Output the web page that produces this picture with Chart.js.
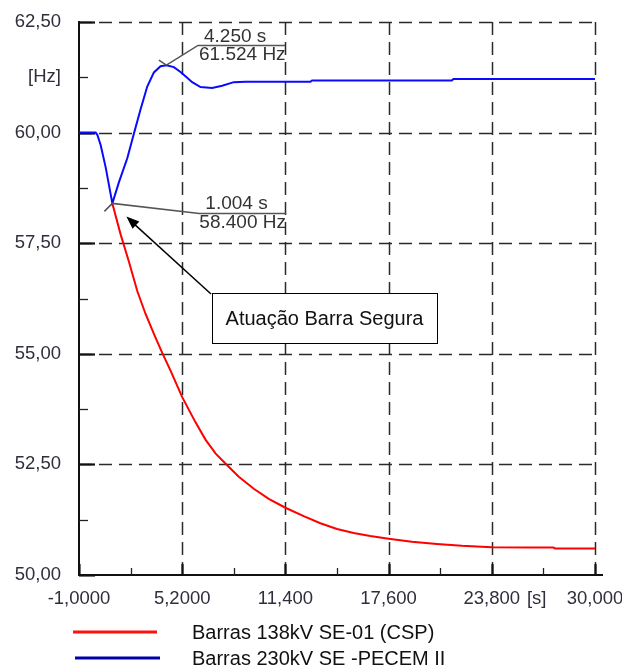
<!DOCTYPE html>
<html>
<head>
<meta charset="utf-8">
<script src="https://cdn.jsdelivr.net/npm/chart.js@4.4.1/dist/chart.umd.min.js"></script>
<style>
  html, body { margin: 0; padding: 0; background: #ffffff; }
  #wrap { width: 622px; height: 669px; position: relative; }
</style>
</head>
<body>
<div id="wrap"><canvas id="c" width="622" height="669"></canvas></div>
<script>
// ---- data ----
const seriesNames = ['Barras 138kV SE-01 (CSP)', 'Barras 230kV SE -PECEM II'];

const redT = [1.004, 1.5, 2.0, 2.5, 3.0, 3.5, 4.0, 4.5, 5.2, 6.0, 6.6, 7.2, 7.9, 8.6, 9.5, 10.4, 11.4, 12.5, 13.5, 14.5, 15.5, 16.5, 17.6, 19.0, 20.5, 22.0, 23.8, 26.0, 27.5, 27.6, 30.0];
const redF = [58.40, 57.70, 57.08, 56.42, 55.90, 55.45, 55.02, 54.62, 54.02, 53.45, 53.06, 52.75, 52.48, 52.22, 51.95, 51.72, 51.52, 51.33, 51.17, 51.04, 50.95, 50.88, 50.82, 50.75, 50.70, 50.66, 50.63, 50.62, 50.62, 50.60, 50.60];

const blueT = [-1.0, 0.0, 0.1, 0.3, 0.6, 1.004, 1.4, 1.9, 2.3, 2.7, 3.1, 3.5, 3.9, 4.25, 4.7, 5.1, 5.5, 5.8, 6.3, 7.0, 7.6, 8.3, 9.0, 12.9, 13.0, 21.4, 21.5, 30.0];
const blueF = [60.00, 60.00, 59.95, 59.72, 59.22, 58.40, 58.88, 59.42, 59.98, 60.53, 61.04, 61.36, 61.50, 61.524, 61.48, 61.37, 61.24, 61.14, 61.03, 61.01, 61.06, 61.14, 61.15, 61.15, 61.18, 61.18, 61.21, 61.21];

const xMajor = [-1.0, 5.2, 11.4, 17.6, 23.8, 30.0];
const xMinor = [2.1, 8.3, 14.5, 20.7, 26.9];
const xTickVals = [-1.0, 5.2, 11.4, 17.6, 23.8, 26.5, 30.0];
const xTickLabels = ['-1,0000', '5,2000', '11,400', '17,600', '23,800', '[s]', '30,000'];

const yMajor = [50.0, 52.5, 55.0, 57.5, 60.0, 62.5];
const yMinor = [51.25, 53.75, 56.25, 58.75, 61.25];
const yTickVals = [50.0, 52.5, 55.0, 57.5, 60.0, 61.25, 62.5];
const yTickLabels = ['50,00', '52,50', '55,00', '57,50', '60,00', '[Hz]', '62,50'];

const markT = [4.25, 1.004];
const markF = [61.524, 58.400];
const calloutText = 'Atuação Barra Segura';

// ---- helpers ----
const FONT = '"Liberation Sans", Arial, sans-serif';
function pts(t, f) { return t.map((v, i) => ({ x: v, y: f[i] })); }
function noPad(s) { s.paddingLeft = 0; s.paddingRight = 0; s.paddingTop = 0; s.paddingBottom = 0; }

const decor = {
  id: 'decor',
  beforeDatasetsDraw(chart) {
    const { ctx, chartArea: a, scales: { x, y } } = chart;
    ctx.save();
    // dashed grid
    ctx.strokeStyle = '#2a2a2a';
    ctx.lineWidth = 1.5;
    ctx.setLineDash([13, 7]);
    xMajor.forEach(v => {
      if (v === xMajor[0]) return;
      const px = Math.round(x.getPixelForValue(v)) + 0.5;
      ctx.beginPath(); ctx.moveTo(px, a.bottom); ctx.lineTo(px, a.top); ctx.stroke();
    });
    yMajor.forEach(v => {
      if (v === yMajor[0]) return;
      const py = Math.round(y.getPixelForValue(v)) + 0.5;
      ctx.beginPath(); ctx.moveTo(a.left, py); ctx.lineTo(a.right, py); ctx.stroke();
    });
    ctx.setLineDash([]);
    // axes
    ctx.strokeStyle = '#111';
    ctx.lineWidth = 2;
    ctx.beginPath(); ctx.moveTo(a.left, a.top - 1); ctx.lineTo(a.left, a.bottom + 1); ctx.stroke();
    ctx.beginPath(); ctx.moveTo(a.left - 1, a.bottom); ctx.lineTo(a.right + 8, a.bottom); ctx.stroke();
    // ticks
    ctx.lineWidth = 2.2;
    yMajor.forEach(v => {
      const py = Math.round(y.getPixelForValue(v)) + 0.5;
      ctx.beginPath(); ctx.moveTo(a.left, py); ctx.lineTo(a.left + 16, py); ctx.stroke();
    });
    xMajor.forEach(v => {
      const px = Math.round(x.getPixelForValue(v)) + 0.5;
      ctx.beginPath(); ctx.moveTo(px, a.bottom); ctx.lineTo(px, a.bottom - 11); ctx.stroke();
    });
    ctx.lineWidth = 1.3;
    ctx.strokeStyle = '#222';
    yMinor.forEach(v => {
      const py = Math.round(y.getPixelForValue(v)) + 0.5;
      ctx.beginPath(); ctx.moveTo(a.left, py); ctx.lineTo(a.left + 9, py); ctx.stroke();
    });
    xMinor.forEach(v => {
      const px = Math.round(x.getPixelForValue(v)) + 0.5;
      ctx.beginPath(); ctx.moveTo(px, a.bottom); ctx.lineTo(px, a.bottom - 7); ctx.stroke();
    });
    ctx.restore();
  },
  afterDatasetsDraw(chart) {
    const { ctx, chartArea: a, scales: { x, y } } = chart;
    ctx.save();
    // marker callouts
    const cfg = [
      { lead: [31.6, -19.7], tick: [-7.5, -5], t1: [6, -8.5], t2: [1, 9] },
      { lead: [87, 10], tick: [-8, 8], t1: [6, -9.4], t2: [0, 9] }
    ];
    markT.forEach((t, i) => {
      const px = x.getPixelForValue(t), py = y.getPixelForValue(markF[i]);
      const c = cfg[i];
      const ux = px + c.lead[0], uy = py + c.lead[1];
      ctx.strokeStyle = '#555';
      ctx.lineWidth = 1.5;
      ctx.beginPath();
      ctx.moveTo(px + c.tick[0], py + c.tick[1]);
      ctx.lineTo(px, py);
      ctx.lineTo(ux, uy);
      ctx.lineTo(ux + 87, uy);
      ctx.stroke();
      ctx.fillStyle = '#333';
      ctx.font = '19px ' + FONT;
      ctx.textAlign = 'left';
      ctx.textBaseline = 'middle';
      ctx.fillText(t.toFixed(3) + ' s', ux + c.t1[0], uy + c.t1[1]);
      ctx.fillText(markF[i].toFixed(3) + ' Hz', ux + c.t2[0], uy + c.t2[1]);
    });
    // callout box and arrow
    const p = { x: x.getPixelForValue(markT[1]), y: y.getPixelForValue(markF[1]) };
    const bx = a.left + 133, by = a.top + 271, bw = 225, bh = 50;
    const hx = p.x + 14, hy = p.y + 13;
    ctx.strokeStyle = '#000';
    ctx.fillStyle = '#000';
    ctx.lineWidth = 1.5;
    ctx.beginPath(); ctx.moveTo(bx - 1, by + 1); ctx.lineTo(hx + 6, hy + 6); ctx.stroke();
    const ang = Math.atan2(hy - (by + 1), hx - (bx - 1));
    const L = 13, W = 5;
    ctx.beginPath();
    ctx.moveTo(hx, hy);
    ctx.lineTo(hx - L * Math.cos(ang) + W * Math.sin(ang), hy - L * Math.sin(ang) - W * Math.cos(ang));
    ctx.lineTo(hx - L * Math.cos(ang) - W * Math.sin(ang), hy - L * Math.sin(ang) + W * Math.cos(ang));
    ctx.closePath(); ctx.fill();
    ctx.fillStyle = '#fff';
    ctx.fillRect(bx, by, bw, bh);
    ctx.lineWidth = 1;
    ctx.strokeRect(bx + 0.5, by + 0.5, bw, bh);
    ctx.fillStyle = '#111';
    ctx.font = '20px ' + FONT;
    ctx.textAlign = 'center';
    ctx.textBaseline = 'middle';
    ctx.fillText(calloutText, bx + bw / 2, by + bh / 2 + 1);
    // legend
    const legColors = ['#ff1010', '#0000a8'];
    const legY = [632, 658];
    const legX = [[73, 157], [75, 160]];
    seriesNames.forEach((n, i) => {
      ctx.strokeStyle = legColors[i];
      ctx.lineWidth = 3;
      ctx.beginPath(); ctx.moveTo(legX[i][0], legY[i]); ctx.lineTo(legX[i][1], legY[i]); ctx.stroke();
      ctx.fillStyle = '#111';
      ctx.font = '20px ' + FONT;
      ctx.textAlign = 'left';
      ctx.textBaseline = 'middle';
      ctx.fillText(n, 192, legY[i] + 1);
    });
    ctx.restore();
  }
};

new Chart(document.getElementById('c'), {
  type: 'line',
  data: {
    datasets: [
      { label: seriesNames[0], data: pts(redT, redF), borderColor: '#ff0000', borderWidth: 2, pointRadius: 0, tension: 0, fill: false },
      { label: seriesNames[1], data: pts(blueT, blueF), borderColor: '#0a0aff', borderWidth: 2, pointRadius: 0, tension: 0, fill: false }
    ]
  },
  options: {
    responsive: false,
    animation: false,
    devicePixelRatio: 1,
    layout: { padding: { left: 0, top: 22, right: 27, bottom: 54 } },
    plugins: { legend: { display: false }, tooltip: { enabled: false } },
    scales: {
      x: {
        type: 'linear', min: -1, max: 30,
        grid: { display: false }, border: { display: false },
        afterBuildTicks: s => { s.ticks = xTickVals.map(v => ({ value: v })); },
        afterFit: s => { s.height = 40; noPad(s); },
        ticks: {
          autoSkip: false, maxRotation: 0, padding: 5,
          color: '#2e2e3c', font: { family: FONT, size: 18.5 },
          callback: (v, i) => xTickLabels[i]
        }
      },
      y: {
        type: 'linear', min: 50, max: 62.5,
        grid: { display: false }, border: { display: false },
        afterBuildTicks: s => { s.ticks = yTickVals.map(v => ({ value: v })); },
        afterFit: s => { s.width = 79; noPad(s); },
        ticks: {
          autoSkip: false, padding: 10,
          color: '#2e2e3c', font: { family: FONT, size: 18.5 },
          callback: (v, i) => yTickLabels[i]
        }
      }
    }
  },
  plugins: [decor]
});
</script>
</body>
</html>
